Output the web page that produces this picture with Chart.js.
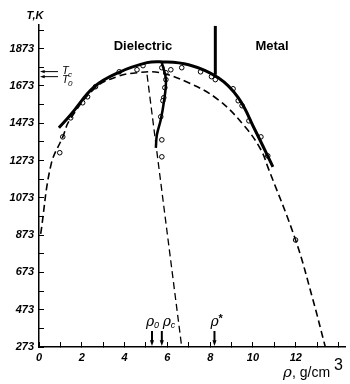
<!DOCTYPE html>
<html lang="en">
<head>
<meta charset="UTF-8">
<title>T-rho diagram</title>
<script src="https://cdn.jsdelivr.net/npm/chart.js"></script>
<style>
  html, body { margin: 0; padding: 0; background: #fff; }
  #wrap { width: 350px; height: 384px; }
</style>
</head>
<body>
<div id="wrap"><canvas id="chart"></canvas></div>
<script>
// solid boundary curve (rho in g/cm3, T in K)
const solidRho = [0.93, 1.48, 2.59, 3.80, 5.05, 5.65, 6.99, 8.38, 9.31, 10.09, 10.93];
const solidT   = [1449, 1519, 1669, 1749, 1798, 1803, 1787, 1717, 1610, 1438, 1239];

// solid line running down from the top
const diamRho = [5.74, 5.93, 5.83, 5.69, 5.51, 5.46];
const diamT   = [1798, 1707, 1583, 1492, 1411, 1341];

// big dashed dome
const domeRho = [0.08, 0.56, 1.11, 1.44, 2.64, 3.66, 4.58, 5.65, 6.99, 8.38, 9.63, 10.37, 10.69, 11.99, 12.78, 13.38];
const domeT   = [880, 1250, 1400, 1492, 1664, 1723, 1744, 1744, 1690, 1599, 1454, 1331, 1239, 847, 536, 273];

// dashed line down to the axis
const dropRho = [5.05, 6.67];
const dropT   = [1733, 273];

// measured points
const pointRho = [0.97, 1.11, 1.48, 2.04, 2.27, 2.64, 3.75, 4.58, 4.86, 5.74, 6.16, 6.67, 7.55, 8.06, 8.24,
                  9.07, 9.31, 9.49, 9.81, 10.37, 10.69, 11.99,
                  5.93, 5.93, 5.88, 5.83, 5.79, 5.69, 5.74, 5.74];
const pointT   = [1315, 1400, 1502, 1583, 1615, 1669, 1749, 1760, 1782, 1771, 1760, 1771, 1749, 1723, 1707,
                  1658, 1594, 1567, 1486, 1400, 1298, 847,
                  1744, 1707, 1664, 1610, 1594, 1508, 1384, 1293];

// axes
const xTicks = [0, 1, 2, 3, 4, 5, 6, 7, 8, 9, 10, 11, 12, 13, 14];
const xTickLabels = [0, 2, 4, 6, 8, 10, 12];
const yTicks = [273, 373, 473, 573, 673, 773, 873, 973, 1073, 1173, 1273, 1373, 1473, 1573, 1673, 1773, 1873, 1973];
const yTickLabels = [273, 473, 673, 873, 1073, 1273, 1473, 1673, 1873];

// marks on the axes
const tMarks = [{ sub: 'c', value: 1750, dy: 2 }, { sub: '0', value: 1723, dy: 6 }];
const rhoMarks = [{ sub: '0', value: 5.28, dx: -6 }, { sub: 'c', value: 5.74, dx: 1 }, { sub: '*', value: 8.2, dx: -4 }];
const borderRho = 8.24;
const borderT = [1733, 1995];

const toXY = (xs, ys) => xs.map((x, i) => ({ x: x, y: ys[i] }));
const tickFont = { family: '"Liberation Sans", sans-serif', size: 11, style: 'italic', weight: 'bold' };

function arrow(ctx, x1, y1, x2, y2, head, width) {
  const a = Math.atan2(y2 - y1, x2 - x1);
  ctx.lineWidth = width;
  ctx.beginPath();
  ctx.moveTo(x1, y1);
  ctx.lineTo(x2 - Math.cos(a) * head * 0.8, y2 - Math.sin(a) * head * 0.8);
  ctx.stroke();
  ctx.beginPath();
  ctx.moveTo(x2, y2);
  ctx.lineTo(x2 - head * Math.cos(a - 0.35), y2 - head * Math.sin(a - 0.35));
  ctx.lineTo(x2 - head * Math.cos(a + 0.35), y2 - head * Math.sin(a + 0.35));
  ctx.closePath();
  ctx.fill();
}

const extras = {
  id: 'extras',
  afterDraw(chart) {
    const ctx = chart.ctx;
    const xs = chart.scales.x, ys = chart.scales.y;
    ctx.save();
    ctx.fillStyle = '#000';
    ctx.strokeStyle = '#000';

    // axis names
    ctx.font = 'italic bold 11px "Liberation Sans"';
    ctx.textAlign = 'center';
    ctx.textBaseline = 'alphabetic';
    ctx.fillText('T,K', 35, 19);
    ctx.textAlign = 'left';
    ctx.font = 'italic 15px "DejaVu Serif"';
    ctx.fillText('ρ', 283, 377);
    ctx.font = '14px "Liberation Sans"';
    ctx.fillText(', g/cm', 292, 377);
    ctx.font = '16px "Liberation Sans"';
    ctx.fillText('3', 334, 370);

    // region names
    ctx.font = 'bold 13px "Liberation Sans"';
    ctx.textAlign = 'center';
    ctx.fillText('Dielectric', 143, 50);
    ctx.fillText('Metal', 272, 50);

    // boundary bar
    ctx.lineWidth = 3;
    ctx.beginPath();
    ctx.moveTo(xs.getPixelForValue(borderRho), ys.getPixelForValue(borderT[0]));
    ctx.lineTo(xs.getPixelForValue(borderRho), ys.getPixelForValue(borderT[1]));
    ctx.stroke();

    // temperature arrows
    tMarks.forEach(m => {
      const y = ys.getPixelForValue(m.value);
      arrow(ctx, xs.left + 19, y, xs.left + 1, y, 5, 1);
      ctx.textAlign = 'left';
      ctx.font = 'italic 11px "Liberation Sans"';
      ctx.fillText('T', xs.left + 23, y + m.dy);
      ctx.font = 'italic 8px "Liberation Sans"';
      ctx.fillText(m.sub, xs.left + 29, y + m.dy + 3);
    });

    // density arrows
    rhoMarks.forEach(m => {
      const x = xs.getPixelForValue(m.value);
      const yb = ys.getPixelForValue(273);
      arrow(ctx, x, yb - 16, x, yb - 1, 6, 2);
      ctx.textAlign = 'left';
      ctx.font = 'italic 14px "DejaVu Serif"';
      ctx.fillText('ρ', x + m.dx, yb - 21);
      ctx.font = (m.sub === '*' ? 'bold 11px' : 'italic 9px') + ' "Liberation Sans"';
      ctx.fillText(m.sub, x + m.dx + 8, m.sub === '*' ? yb - 25 : yb - 19);
    });
    ctx.restore();
  }
};

new Chart(document.getElementById('chart'), {
  type: 'scatter',
  data: {
    datasets: [
      { data: toXY(solidRho, solidT), showLine: true, borderColor: '#000', borderWidth: 3,
        pointRadius: 0, tension: 0.4 },
      { data: toXY(diamRho, diamT), showLine: true, borderColor: '#000', borderWidth: 2.5,
        pointRadius: 0, tension: 0.4 },
      { data: toXY(domeRho, domeT), showLine: true, borderColor: '#000', borderWidth: 1.6,
        borderDash: [7, 4], pointRadius: 0, tension: 0.4 },
      { data: toXY(dropRho, dropT), showLine: true, borderColor: '#000', borderWidth: 1.3,
        borderDash: [7, 4], pointRadius: 0 },
      { data: toXY(pointRho, pointT), showLine: false, pointRadius: 2.3, borderWidth: 1,
        pointBackgroundColor: '#fff', pointBorderColor: '#000' }
    ]
  },
  options: {
    responsive: true,
    maintainAspectRatio: false,
    animation: false,
    layout: { padding: { top: 25, right: 2, left: 0, bottom: 0 } },
    plugins: { legend: { display: false }, tooltip: { enabled: false } },
    scales: {
      x: {
        type: 'linear', min: 0, max: 14.3,
        afterBuildTicks: s => { s.ticks = xTicks.map(v => ({ value: v })); },
        afterFit: s => { s.height = 37; },
        ticks: { autoSkip: false, maxRotation: 0, padding: 9, color: '#000', font: tickFont,
                 callback: v => xTickLabels.includes(v) ? String(v) : '' },
        grid: { drawOnChartArea: false, tickLength: -5, color: '#000' },
        border: { color: '#000', width: 1.5 }
      },
      y: {
        type: 'linear', min: 273, max: 2000,
        afterBuildTicks: s => { s.ticks = yTicks.map(v => ({ value: v })); },
        afterFit: s => { s.width = 39; },
        ticks: { autoSkip: false, padding: 10, color: '#000', font: tickFont,
                 callback: v => yTickLabels.includes(v) ? String(v) : '' },
        grid: { drawOnChartArea: false, tickLength: -5, color: '#000' },
        border: { color: '#000', width: 1.5 }
      }
    }
  },
  plugins: [extras]
});
</script>
</body>
</html>
